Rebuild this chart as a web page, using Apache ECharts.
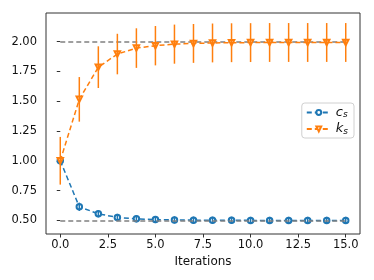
<!DOCTYPE html>
<html>
<head>
<meta charset="utf-8">
<script src="https://cdn.jsdelivr.net/npm/echarts@6/dist/echarts.min.js"></script>
<style>
html,body{margin:0;padding:0;background:#fff;}
#chart{width:374px;height:280px;}
</style>
</head>
<body>
<div id="chart"></div>
<script>
var iterations = [0,1,2,3,4,5,6,7,8,9,10,11,12,13,14,15];
var csMean = [1.0,0.614,0.555,0.525,0.513,0.507,0.504,0.502,0.501,0.501,0.500,0.500,0.500,0.500,0.500,0.500];
var csErr  = [0.02,0.035,0.03,0.03,0.03,0.03,0.03,0.03,0.03,0.03,0.03,0.03,0.03,0.03,0.03,0.03];
var ksMean = [1.0,1.515,1.785,1.895,1.945,1.965,1.978,1.984,1.988,1.990,1.991,1.992,1.992,1.992,1.992,1.992];
var ksErr  = [0.2,0.187,0.175,0.17,0.166,0.165,0.164,0.163,0.163,0.163,0.163,0.163,0.163,0.163,0.163,0.163];
var csTarget = 0.5;
var ksTarget = 2.0;
var xTicks = [0,2.5,5,7.5,10,12.5,15];
var yTicks = [0.5,0.75,1.0,1.25,1.5,1.75,2.0];
var seriesNames = ['c_s','k_s'];
var xName = 'Iterations';

var BLUE = '#1f77b4', ORANGE = '#ff7f0e';
var FONT = 'DejaVu Sans';

function pairs(xs, ys){ return xs.map(function(x,i){ return [x, ys[i]]; }); }
function errData(xs, m, e){ return xs.map(function(x,i){ return [x, m[i]-e[i], m[i]+e[i]]; }); }
function errRenderer(color){
  return function(params, api){
    var p1 = api.coord([api.value(0), api.value(1)]);
    var p2 = api.coord([api.value(0), api.value(2)]);
    return {type:'line', shape:{x1:p1[0],y1:p1[1],x2:p2[0],y2:p2[1]},
      style:{stroke:color, lineWidth:1.5}};
  };
}
var xMin = iterations[0], xMax = iterations[iterations.length-1];
var xPad = (xMax - xMin) * 0.05;
var allLo = [], allHi = [];
csMean.forEach(function(v,i){ allLo.push(v-csErr[i]); allHi.push(v+csErr[i]); });
ksMean.forEach(function(v,i){ allLo.push(v-ksErr[i]); allHi.push(v+ksErr[i]); });
var yLo = Math.min.apply(null, allLo.concat([csTarget])), yHi = Math.max.apply(null, allHi.concat([ksTarget]));
var yPad = (yHi - yLo) * 0.05;

var chart = echarts.init(document.getElementById('chart'), null, {renderer:'canvas'});
var refLine = function(v){ return [{coord:[xMin, v]},{coord:[xMax, v]}]; };
chart.setOption({
  animation:false,
  backgroundColor:'#fff',
  textStyle:{fontFamily:FONT},
  grid:{left:46, right:14, top:13, bottom:46, show:true, borderColor:'#333', borderWidth:1, backgroundColor:'transparent'},
  xAxis:{type:'value', min:xMin - xPad, max:xMax + xPad,
    name:xName, nameLocation:'middle', nameGap:19,
    nameTextStyle:{fontFamily:FONT, fontSize:12, color:'#111'},
    axisLine:{show:false}, splitLine:{show:false},
    axisTick:{show:true, length:3.5, customValues:xTicks, lineStyle:{color:'#333'}},
    axisLabel:{customValues:xTicks, fontFamily:FONT, fontSize:11.5, color:'#111', margin:5,
      formatter:function(v){ return v.toFixed(1); }}
  },
  yAxis:{type:'value', min:yLo - yPad, max:yHi + yPad,
    axisLine:{show:false}, splitLine:{show:false},
    axisTick:{show:true, length:3.5, customValues:yTicks, lineStyle:{color:'#333'}},
    axisLabel:{customValues:yTicks, fontFamily:FONT, fontSize:11.5, color:'#111', margin:9,
      formatter:function(v){ return v.toFixed(2); }}
  },
  legend:{
    orient:'vertical', right:20, top:103,
    data:seriesNames,
    itemWidth:24, itemHeight:6, itemGap:3,
    padding:[3,6,2,4],
    borderColor:'#d0d0d0', borderWidth:1, borderRadius:3,
    backgroundColor:'rgba(255,255,255,0.85)',
    formatter:function(n){ return '{i|' + n.charAt(0) + '}{s|' + n.charAt(2) + '}'; },
    textStyle:{
      rich:{
        i:{fontFamily:FONT, fontStyle:'italic', fontSize:13, color:'#111'},
        s:{fontFamily:FONT, fontStyle:'italic', fontSize:9, color:'#111', padding:[5,0,0,0]}
      }
    }
  },
  series:[
    {type:'line', name:seriesNames[0], data:pairs(iterations, csMean), z:3,
      symbol:'emptyCircle', symbolSize:5.5, color:BLUE,
      itemStyle:{color:BLUE, borderWidth:1.2},
      lineStyle:{color:BLUE, width:1.5, type:[5,3]},
      markLine:{silent:true, symbol:'none', label:{show:false},
        lineStyle:{color:'#808080', width:1.5, type:[5,3]},
        data:[refLine(csTarget), refLine(ksTarget)]}
    },
    {type:'custom', name:seriesNames[0], renderItem:errRenderer(BLUE), data:errData(iterations, csMean, csErr), z:4},
    {type:'line', name:seriesNames[1], data:pairs(iterations, ksMean), z:5,
      symbol:'emptyTriangle', symbolRotate:180, symbolSize:5.5, color:ORANGE,
      itemStyle:{color:ORANGE, borderWidth:1.2},
      lineStyle:{color:ORANGE, width:1.5, type:[5,3]}
    },
    {type:'custom', name:seriesNames[1], renderItem:errRenderer(ORANGE), data:errData(iterations, ksMean, ksErr), z:6}
  ]
});
</script>
</body>
</html>
